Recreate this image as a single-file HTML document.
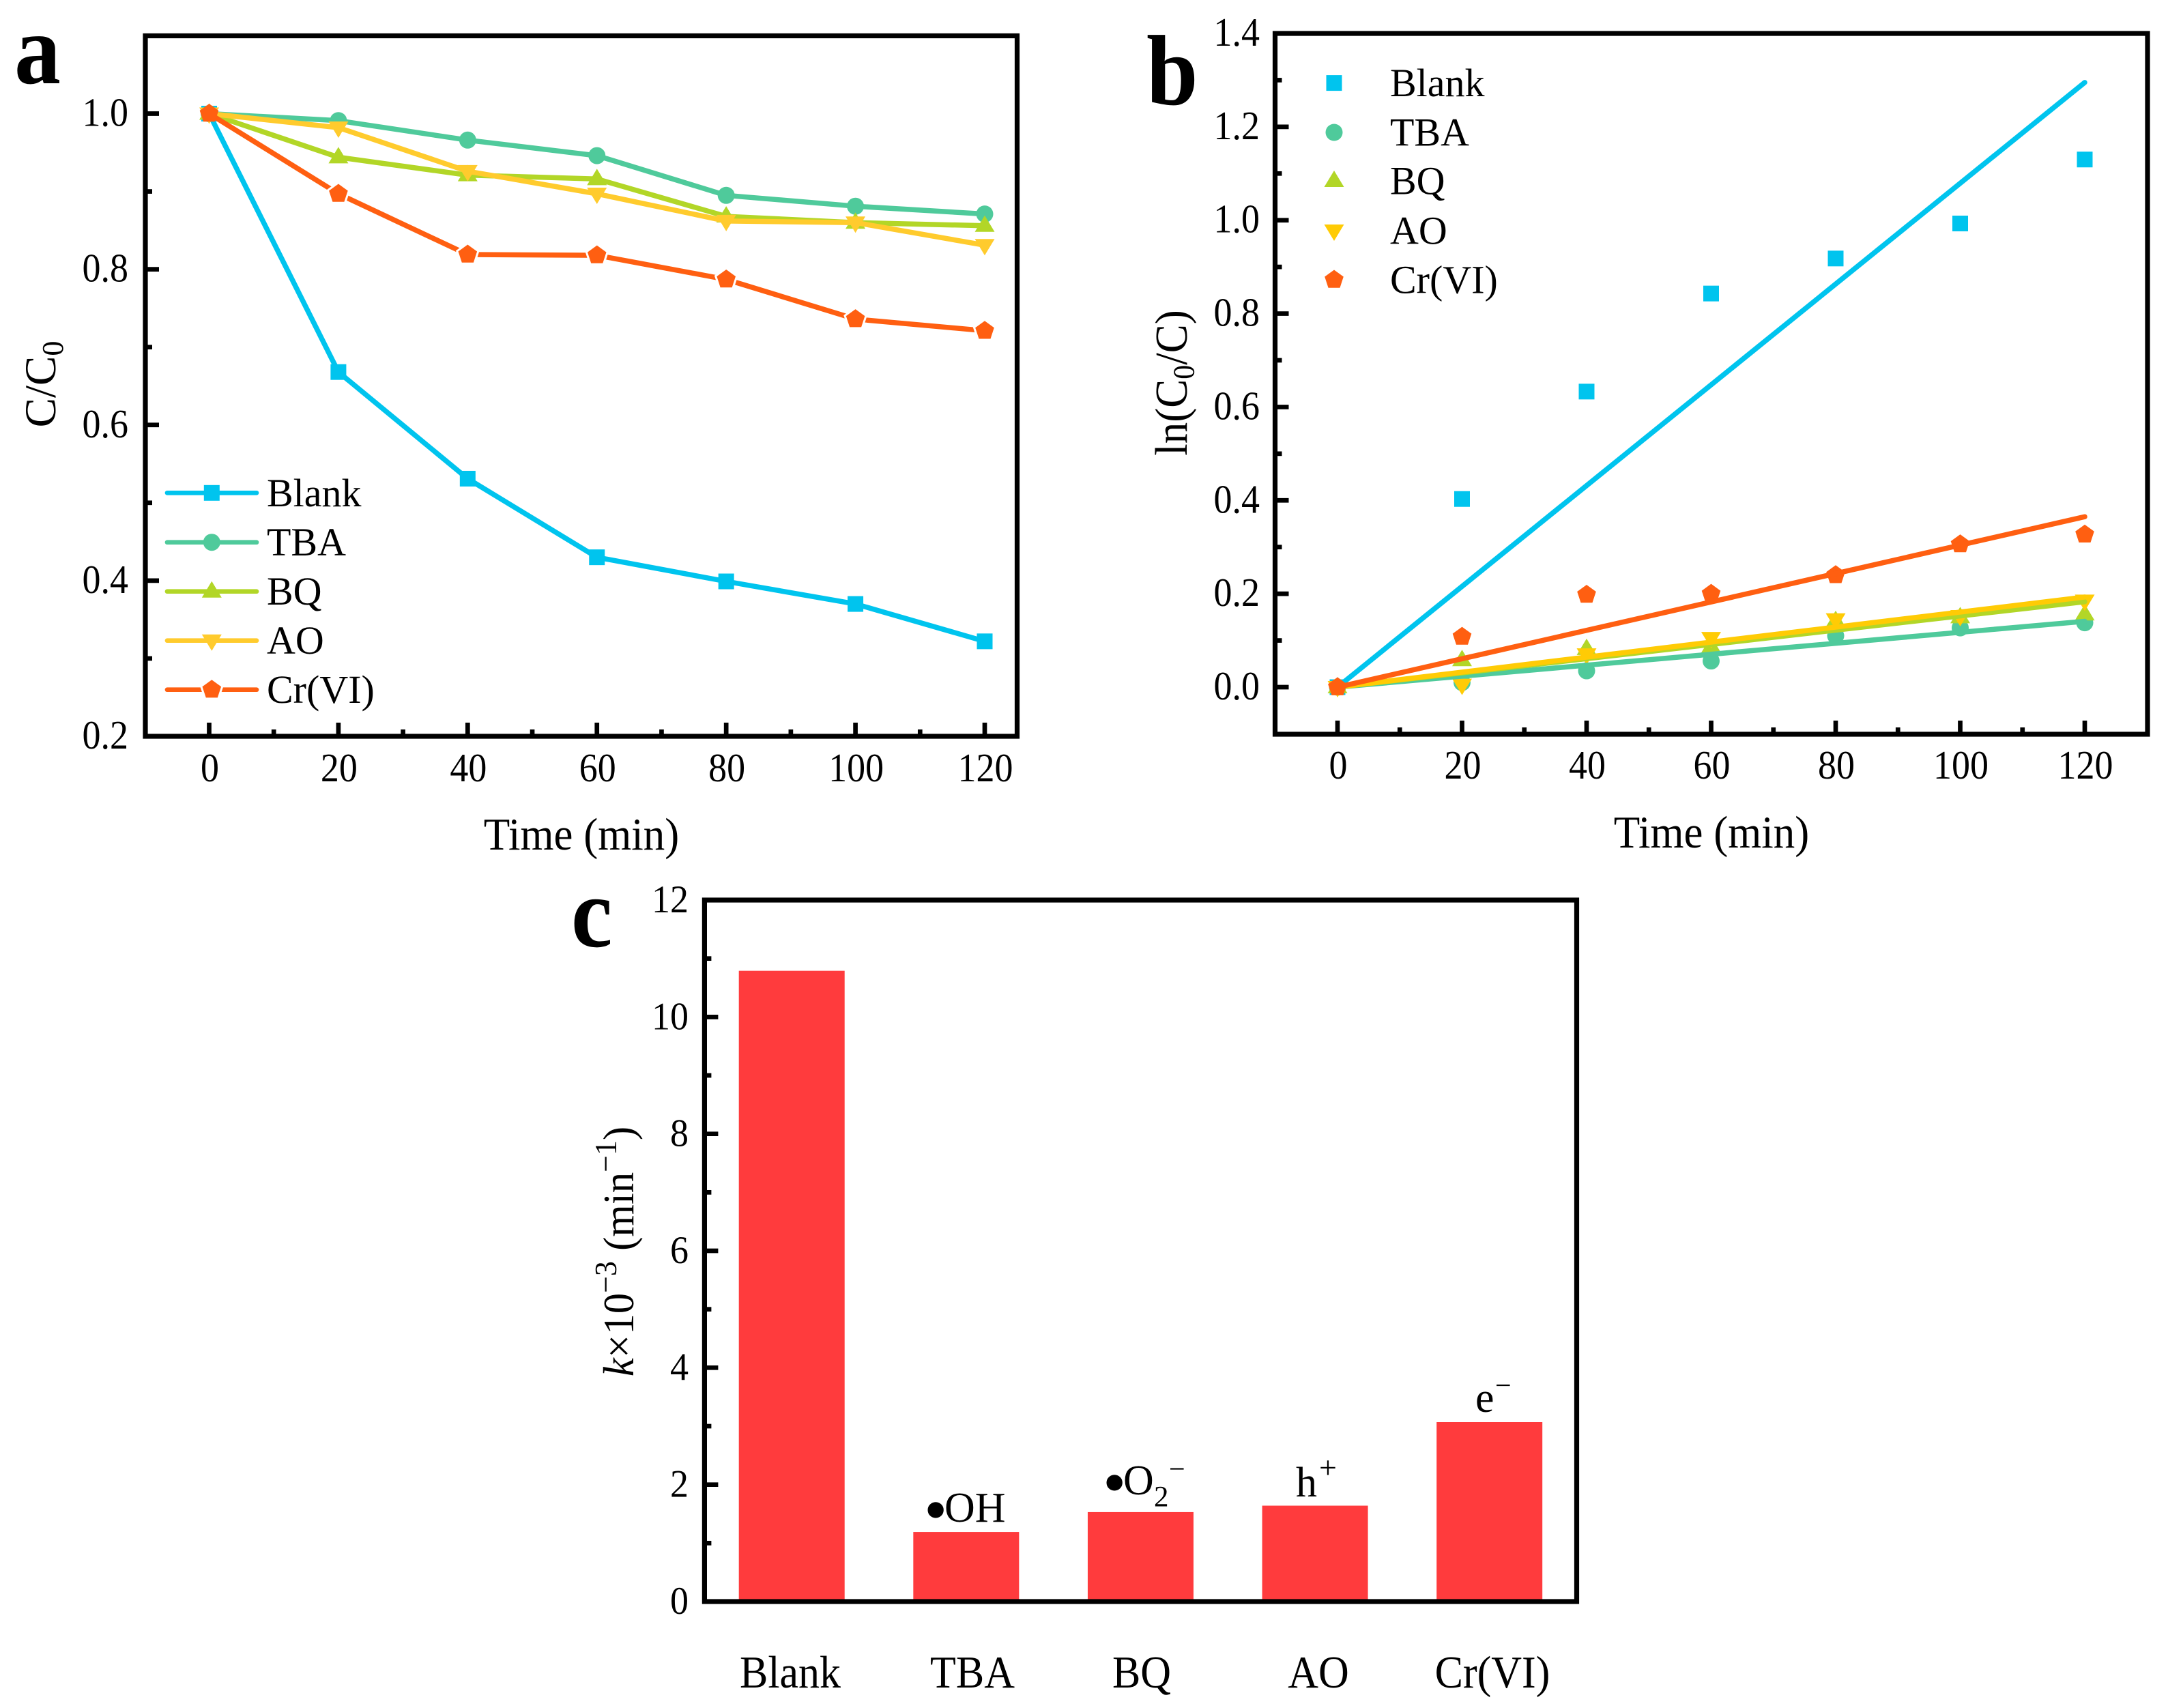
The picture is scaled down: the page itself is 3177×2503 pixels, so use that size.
<!DOCTYPE html>
<html lang="en">
<head>
<meta charset="utf-8">
<title>Degradation kinetics charts</title>
<style>
html,body{margin:0;padding:0;background:#fff;}
svg{display:block;}
text{font-family:"Liberation Serif",serif;fill:#000;}
</style>
</head>
<body>
<svg id="fig" xmlns="http://www.w3.org/2000/svg" width="3177" height="2503" viewBox="0 0 3177 2503">
<rect x="0" y="0" width="3177" height="2503" fill="#fff"/>
<text transform="translate(21 122) scale(1 1.08)" font-size="136" font-weight="bold">a</text>
<text transform="translate(1680 153) scale(1 1.08)" font-size="136" font-weight="bold">b</text>
<text transform="translate(837 1387) scale(1 1.08)" font-size="136" font-weight="bold">c</text>

<text transform="translate(852 1245) scale(1 1.06)" font-size="63" text-anchor="middle">Time (min)</text>
<text transform="translate(81 563) rotate(-90)" font-size="65" text-anchor="middle">C/C<tspan font-size="44" dy="11">0</tspan></text>

<text transform="translate(2508 1242) scale(1 1.06)" font-size="63" text-anchor="middle">Time (min)</text>
<text transform="translate(1739 561) rotate(-90) scale(1 1.06)" font-size="63" text-anchor="middle">ln(C<tspan font-size="42" dy="10">0</tspan><tspan dy="-10">/C)</tspan></text>

<text transform="translate(928 1834) rotate(-90) scale(0.953 1)" font-size="64" text-anchor="middle"><tspan font-style="italic">k</tspan>×10<tspan font-size="46" dy="-25">−3</tspan><tspan dy="25"> (min</tspan><tspan font-size="46" dy="-25">−1</tspan><tspan dy="25">)</tspan></text>

<text x="1354" y="2230" font-size="62"><tspan font-size="98" dy="15">•</tspan><tspan x="1384" dy="-15">OH</tspan></text>
<text x="1616" y="2190" font-size="62"><tspan font-size="98" dy="15">•</tspan><tspan x="1646" dy="-15">O</tspan><tspan x="1691" font-size="43" dy="17.5">2</tspan><tspan x="1713" font-size="42" dy="-41">−</tspan></text>
<text x="1899" y="2193" font-size="62">h<tspan x="1933" font-size="46" dy="-27">+</tspan></text>
<text x="2162" y="2069" font-size="62">e<tspan x="2191" font-size="42" dy="-25">−</tspan></text>
</svg>
<script>
// ---- Shared data ----
const timeValues = [0, 20, 40, 60, 80, 100, 120];
const seriesNames = ['Blank', 'TBA', 'BQ', 'AO', 'Cr(VI)'];

// Panel a: C/C0
const concBlank = [1, 0.668, 0.531, 0.430, 0.399, 0.370, 0.322];
const concTBA = [1, 0.991, 0.966, 0.946, 0.895, 0.881, 0.871];
const concBQ = [1, 0.944, 0.921, 0.916, 0.868, 0.860, 0.856];
const concAO = [1, 0.982, 0.926, 0.897, 0.862, 0.860, 0.831];
const concCr = [1, 0.897, 0.819, 0.818, 0.787, 0.736, 0.721];
const yTicksA = [0.2, 0.4, 0.6, 0.8, 1.0];
const yMinorA = [0.3, 0.5, 0.7, 0.9];

// Panel b: ln(C0/C) points and fitted-line end values at t = 120
const lnBlank = [0, 0.403, 0.633, 0.843, 0.918, 0.993, 1.130];
const lnTBA = [0, 0.010, 0.035, 0.056, 0.110, 0.127, 0.138];
const lnBQ = [0, 0.058, 0.082, 0.087, 0.142, 0.150, 0.156];
const lnAO = [0, 0.005, 0.070, 0.105, 0.145, 0.152, 0.185];
const lnCr = [0, 0.108, 0.198, 0.200, 0.240, 0.306, 0.327];
const fitEnd = [1.295, 0.141, 0.183, 0.193, 0.365];
const yTicksB = [0, 0.2, 0.4, 0.6, 0.8, 1.0, 1.2, 1.4];
const yMinorB = [0.1, 0.3, 0.5, 0.7, 0.9, 1.1, 1.3];

// Panel c: rate constants
const rateValues = [10.79, 1.19, 1.53, 1.64, 3.07];
const yTicksC = [0, 2, 4, 6, 8, 10, 12];
const yMinorC = [1, 3, 5, 7, 9, 11];
const xMinor = [10, 30, 50, 70, 90, 110];

const svg = document.getElementById('fig');
const NS = 'http://www.w3.org/2000/svg';
const colors = ['#00C4EE', '#4FCA9B', '#B2D627', '#FFCB2D', '#FF5F11'];
const colorsB = ['#00C4EE', '#4FCA9B', '#B2D627', '#FFCB05', '#FF5F11'];
const shapes = ['square', 'circle', 'up', 'down', 'pentagon'];
const lineWidth = 7.5;

function make(tag, attrs, parent) {
  const el = document.createElementNS(NS, tag);
  for (const k in attrs) el.setAttribute(k, attrs[k]);
  (parent || svg).appendChild(el);
  return el;
}
function slug(s) { return s.toLowerCase().replace(/[^a-z0-9]+/g, ''); }

function linear(d0, d1, r0, r1) {
  return function (v) { return r0 + (v - d0) * (r1 - r0) / (d1 - d0); };
}

function marker(shape, cx, cy, color, name, halo) {
  let el;
  if (shape === 'square') {
    el = make('rect', { x: cx - 11.5, y: cy - 11.5, width: 23, height: 23, fill: color });
  } else if (shape === 'circle') {
    el = make('circle', { cx: cx, cy: cy, r: 12.5, fill: color });
  } else if (shape === 'up') {
    el = make('polygon', { points: [cx, cy - 15, cx + 14.5, cy + 9, cx - 14.5, cy + 9].join(','), fill: color });
  } else if (shape === 'down') {
    el = make('polygon', { points: [cx, cy + 15, cx + 14.5, cy - 9, cx - 14.5, cy - 9].join(','), fill: color });
  } else {
    const r = 14.5, pts = [];
    for (let i = 0; i < 5; i++) {
      const a = -Math.PI / 2 + i * 2 * Math.PI / 5;
      pts.push((cx + r * Math.cos(a)).toFixed(1) + ',' + (cy + r * Math.sin(a)).toFixed(1));
    }
    el = make('polygon', { points: pts.join(' '), fill: color });
    if (halo) {
      el.setAttribute('stroke', '#fff');
      el.setAttribute('stroke-width', '6');
      el.setAttribute('paint-order', 'stroke');
    }
  }
  
  
  return el;
}

function frame(box, id) {
  const el = make('rect', { x: box.l, y: box.t, width: box.r - box.l, height: box.b - box.t, fill: 'none', stroke: '#000', 'stroke-width': 7.2 });
  
  
}
function tick(x1, y1, x2, y2, name) {
  const el = make('line', { x1: x1, y1: y1, x2: x2, y2: y2, stroke: '#000', 'stroke-width': 6.7 });
  
  
}
function label(str, x, y, anchor, size, stretch, name) {
  const el = make('text', { transform: 'translate(' + x + ' ' + y + ') scale(1 ' + stretch + ')', 'text-anchor': anchor, 'font-size': size });
  el.textContent = str;
  
  
}

function yAxis(box, y, major, minor, digits, id, labelRight, stretch) {
  major.forEach(function (v) {
    tick(box.l, y(v), box.l + 20, y(v), id + '-y-tick');
    label(v.toFixed(digits), labelRight, y(v) + 18, 'end', 54, stretch, id + '-y-tick-label');
  });
  minor.forEach(function (v) {
    tick(box.l, y(v), box.l + 10, y(v), id + '-y-minor-tick');
  });
}
function xAxis(box, x, id, labelY, stretch) {
  timeValues.forEach(function (v) {
    tick(x(v), box.b, x(v), box.b - 20, id + '-x-tick');
    label(String(v), x(v) + 1, labelY, 'middle', 54, stretch, id + '-x-tick-label');
  });
  xMinor.forEach(function (v) {
    tick(x(v), box.b, x(v), box.b - 10, id + '-x-minor-tick');
  });
}

// ---- Panel a ----
(function () {
  const box = { l: 213, r: 1490.5, t: 52.5, b: 1079 };
  const x = linear(0, 120, 306.5, 1443);
  const y = linear(0.2, 1.0, 1079, 166.5);
  const all = [concBlank, concTBA, concBQ, concAO, concCr];
  all.forEach(function (vals, s) {
    const pts = vals.map(function (v, i) { return x(timeValues[i]).toFixed(1) + ',' + y(v).toFixed(1); }).join(' ');
    const line = make('polyline', { points: pts, fill: 'none', stroke: colors[s], 'stroke-width': lineWidth, 'stroke-linejoin': 'round', 'stroke-linecap': 'round' });
    
    
    vals.forEach(function (v, i) {
      marker(shapes[s], x(timeValues[i]), y(v), colors[s], 'point-a-' + slug(seriesNames[s]), s === 4 && i > 0);
    });
  });
  frame(box, 'panel-a');
  yAxis(box, y, yTicksA, yMinorA, 1, 'panel-a', 188, 1.1);
  xAxis(box, x, 'panel-a', 1145, 1.1);
  const legendRows = [722.3, 794.7, 866.7, 938.7, 1010.7];
  seriesNames.forEach(function (n, s) {
    const row = legendRows[s];
    const ln = make('line', { x1: 245, y1: row, x2: 376, y2: row, stroke: colors[s], 'stroke-width': 6.7, 'stroke-linecap': 'round' });
    
    
    marker(shapes[s], 310.3, row, colors[s], 'legend-marker-a-' + slug(n), s === 4);
    label(n, 391, row + 19.5, 'start', 58, 1, 'legend-entry-a-' + slug(n));
  });
})();

// ---- Panel b ----
(function () {
  const box = { l: 1868.5, r: 3147, t: 49, b: 1076 };
  const x = linear(0, 120, 1960, 3055);
  const y = linear(0, 1.4, 1007, 49);
  const all = [lnBlank, lnTBA, lnBQ, lnAO, lnCr];
  all.forEach(function (vals, s) {
    vals.forEach(function (v, i) {
      marker(shapes[s], x(timeValues[i]), y(v), colorsB[s], 'point-b-' + slug(seriesNames[s]));
    });
  });
  fitEnd.forEach(function (end, s) {
    const ln = make('line', { x1: x(0), y1: y(0), x2: x(120), y2: y(end), stroke: colorsB[s], 'stroke-width': lineWidth, 'stroke-linecap': 'round' });
    
    
  });
  marker(shapes[4], x(0), y(0), colorsB[4], 'point-b-origin');
  frame(box, 'panel-b');
  yAxis(box, y, yTicksB, yMinorB, 1, 'panel-b', 1846, 1.1);
  xAxis(box, x, 'panel-b', 1141, 1.1);
  const legendRows = [121.6, 194, 265, 338, 410];
  seriesNames.forEach(function (n, s) {
    const row = legendRows[s];
    marker(shapes[s], 1955, row, colorsB[s], 'legend-marker-b-' + slug(n));
    label(n, 2037, row + 19.5, 'start', 58, 1, 'legend-entry-b-' + slug(n));
  });
})();

// ---- Panel c ----
(function () {
  const box = { l: 1032.4, r: 2310.5, t: 1319, b: 2347 };
  const x = linear(-0.5, 4.5, box.l, box.r);
  const y = linear(0, 12, 2347, 1319);
  const labelX = [1158, 1425, 1673, 1932, 2187];
  const barW = 155;
  rateValues.forEach(function (v, i) {
    const bar = make('rect', { x: x(i) - barW / 2, y: y(v), width: barW, height: y(0) - y(v), fill: '#FF3B3D' });
    
    
    label(seriesNames[i], labelX[i], 2473, 'middle', 62, 1.08, 'category-label-' + slug(seriesNames[i]));
  });
  frame(box, 'panel-c');
  yAxis(box, y, yTicksC, yMinorC, 0, 'panel-c', 1009, 1.06);
})();
</script>
</body>
</html>
